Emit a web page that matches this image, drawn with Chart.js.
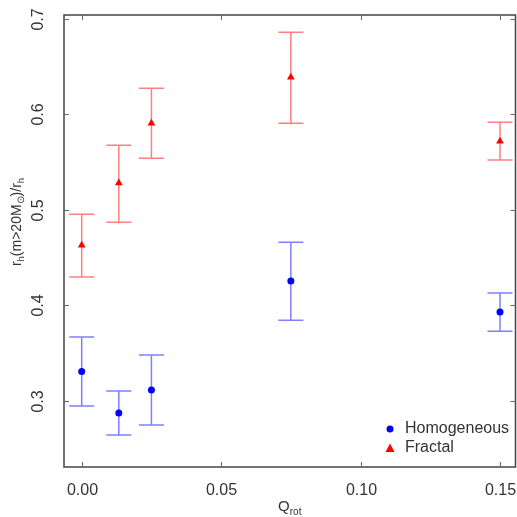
<!DOCTYPE html>
<html>
<head>
<meta charset="utf-8">
<script src="https://cdn.jsdelivr.net/npm/chart.js@4"></script>
<style>
  html, body { margin: 0; padding: 0; background: #fff; }
  #wrap { width: 517px; height: 517px; }
</style>
</head>
<body>
<div id="wrap"><canvas id="myChart"></canvas></div>
<script>
// data
var qRot = [0.0, 0.0133, 0.025, 0.075, 0.15];

var homoVal  = [0.331, 0.2875, 0.3115, 0.4254, 0.393];
var homoLow  = [0.2948, 0.2645, 0.275, 0.3846, 0.373];
var homoHigh = [0.3669, 0.3104, 0.348, 0.466, 0.413];

var fracVal  = [0.463, 0.528, 0.5905, 0.6386, 0.5717];
var fracLow  = [0.4296, 0.487, 0.554, 0.5905, 0.552];
var fracHigh = [0.4954, 0.5675, 0.627, 0.6856, 0.5915];

var xTicks = [0.0, 0.05, 0.10, 0.15];
var xTickLabels = ["0.00", "0.05", "0.10", "0.15"];
var yTicks = [0.3, 0.4, 0.5, 0.6, 0.7];
var yTickLabels = ["0.3", "0.4", "0.5", "0.6", "0.7"];

var seriesNames = ["Homogeneous", "Fractal"];

function toPoints(xs, ys, lo, hi) {
  return xs.map(function(x, i) { return { x: x, y: ys[i], lo: lo[i], hi: hi[i] }; });
}

var FONT = "'Liberation Sans', Arial, sans-serif";
var TEXT = "#333";

// error bars, drawn under the points
var errorBars = {
  id: "errorBars",
  beforeDatasetsDraw: function(chart) {
    var ctx = chart.ctx;
    var xs = chart.scales.x, ys = chart.scales.y;
    var colors = ["rgba(0,0,255,0.5)", "rgba(255,0,0,0.5)"];
    chart.data.datasets.forEach(function(ds, di) {
      ctx.save();
      ctx.strokeStyle = colors[di];
      ctx.lineWidth = 1.5;
      ds.data.forEach(function(p) {
        var px = xs.getPixelForValue(p.x);
        var top = ys.getPixelForValue(p.hi);
        var bot = ys.getPixelForValue(p.lo);
        ctx.beginPath();
        ctx.moveTo(px, top); ctx.lineTo(px, bot);
        ctx.moveTo(px - 12.5, top); ctx.lineTo(px + 12.5, top);
        ctx.moveTo(px - 12.5, bot); ctx.lineTo(px + 12.5, bot);
        ctx.stroke();
      });
      ctx.restore();
    });
  }
};

// frame, inward ticks on all sides, rotated y labels, titles with subscripts, legend
var frameAndText = {
  id: "frameAndText",
  afterDraw: function(chart) {
    var ctx = chart.ctx;
    var a = chart.chartArea;
    var xs = chart.scales.x, ys = chart.scales.y;
    ctx.save();

    ctx.strokeStyle = "#444";
    ctx.lineWidth = 1.5;
    ctx.strokeRect(a.left, a.top, a.right - a.left, a.bottom - a.top);

    ctx.lineWidth = 1;
    ctx.strokeStyle = "#666";
    ctx.fillStyle = TEXT;
    ctx.font = "16px " + FONT;

    // x ticks
    ctx.textAlign = "center";
    ctx.textBaseline = "middle";
    xTicks.forEach(function(v, i) {
      var px = Math.round(xs.getPixelForValue(v)) + 0.5;
      ctx.beginPath();
      ctx.moveTo(px, a.bottom); ctx.lineTo(px, a.bottom - 5);
      ctx.moveTo(px, a.top); ctx.lineTo(px, a.top + 5);
      ctx.stroke();
      ctx.fillText(xTickLabels[i], px, 491);
    });

    // y ticks, labels rotated
    yTicks.forEach(function(v, i) {
      var py = Math.round(ys.getPixelForValue(v)) + 0.5;
      ctx.beginPath();
      ctx.moveTo(a.left, py); ctx.lineTo(a.left + 5, py);
      ctx.moveTo(a.right, py); ctx.lineTo(a.right - 5, py);
      ctx.stroke();
      ctx.save();
      ctx.translate(39, py);
      ctx.rotate(-Math.PI / 2);
      ctx.fillText(yTickLabels[i], 0, 0);
      ctx.restore();
    });

    // x title: Q_rot
    var big = "15px " + FONT, small = "10px " + FONT;
    ctx.font = big;
    var wQ = ctx.measureText("Q").width;
    ctx.font = small;
    var wSub = ctx.measureText("rot").width;
    var x0 = (a.left + a.right) / 2 - (wQ + wSub) / 2;
    ctx.textAlign = "left";
    ctx.font = big;
    ctx.fillText("Q", x0, 507);
    ctx.font = small;
    ctx.fillText("rot", x0 + wQ, 512);

    // y title: r_h(m>20M_sun)/r_h
    var tBig = "14px " + FONT, tSmall = "9.5px " + FONT;
    var parts = [
      ["r", tBig, 0], ["h", tSmall, 4], ["(m>20M", tBig, 0], ["\u2299", tSmall, 4],
      [")/r", tBig, 0], ["h", tSmall, 4]
    ];
    var total = 0;
    parts.forEach(function(p) { ctx.font = p[1]; total += ctx.measureText(p[0]).width; });
    ctx.save();
    ctx.translate(17, 222);
    ctx.rotate(-Math.PI / 2);
    var cx = -total / 2;
    parts.forEach(function(p) {
      ctx.font = p[1];
      ctx.fillText(p[0], cx, p[2]);
      cx += ctx.measureText(p[0]).width;
    });
    ctx.restore();

    // legend
    ctx.font = "16px " + FONT;
    ctx.textAlign = "left";
    ctx.fillStyle = "#0000ff";
    ctx.beginPath();
    ctx.arc(390, 429, 3.5, 0, Math.PI * 2);
    ctx.fill();
    ctx.fillStyle = "#ff0000";
    ctx.beginPath();
    ctx.moveTo(390, 443.5); ctx.lineTo(394.5, 452); ctx.lineTo(385.5, 452);
    ctx.closePath();
    ctx.fill();
    ctx.fillStyle = TEXT;
    ctx.fillText(seriesNames[0], 405, 429);
    ctx.fillText(seriesNames[1], 405, 448);

    ctx.restore();
  }
};

var ctx = document.getElementById("myChart").getContext("2d");
var myChart = new Chart(ctx, {
  type: "scatter",
  data: {
    datasets: [
      {
        label: seriesNames[0],
        data: toPoints(qRot, homoVal, homoLow, homoHigh),
        pointStyle: "circle",
        pointRadius: 3.5,
        backgroundColor: "#0000ff",
        borderColor: "#0000ff",
        borderWidth: 0
      },
      {
        label: seriesNames[1],
        data: toPoints(qRot, fracVal, fracLow, fracHigh),
        pointStyle: "triangle",
        pointRadius: 4.5,
        backgroundColor: "#ff0000",
        borderColor: "#ff0000",
        borderWidth: 0
      }
    ]
  },
  options: {
    responsive: true,
    maintainAspectRatio: false,
    animation: false,
    layout: { autoPadding: false, padding: { left: 64, top: 15, right: 1.5, bottom: 50 } },
    plugins: {
      legend: { display: false },
      tooltip: { enabled: false }
    },
    scales: {
      x: {
        type: "linear",
        min: -0.00635,
        max: 0.15556,
        ticks: { display: false },
        grid: { display: false, drawTicks: false },
        border: { display: false },
        afterFit: function(s) { s.height = 0; }
      },
      y: {
        type: "linear",
        min: 0.231,
        max: 0.7037,
        ticks: { display: false },
        grid: { display: false, drawTicks: false },
        border: { display: false },
        afterFit: function(s) { s.width = 0; }
      }
    }
  },
  plugins: [errorBars, frameAndText]
});
</script>
</body>
</html>
